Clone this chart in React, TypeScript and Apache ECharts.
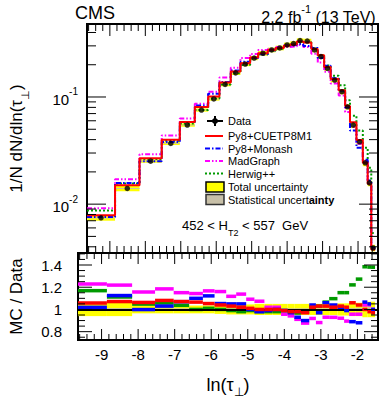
import React, { useEffect, useRef } from "react";
import * as echarts from "echarts";

// ---- data ----
const binEdges = [-9.645, -8.854, -8.164, -7.537, -7.027, -6.604, -6.228, -5.909, -5.59, -5.317, -5.044, -4.818, -4.545, -4.327, -4.09, -3.91, -3.727, -3.545, -3.318, -3.136, -2.956, -2.773, -2.546, -2.364, -2.227, -2.045, -1.865, -1.728, -1.627, -1.518];
const dataVals = [0.00745, 0.014, 0.0252, 0.0369, 0.0547, 0.0756, 0.0958, 0.131, 0.168, 0.203, 0.231, 0.256, 0.275, 0.287, 0.306, 0.315, 0.336, 0.333, 0.275, 0.238, 0.185, 0.144, 0.112, 0.081, 0.0547, 0.0382, 0.0243, 0.0158, 0.0039];
const totalUnc = [0.06, 0.06, 0.035, 0.035, 0.035, 0.035, 0.035, 0.04, 0.045, 0.045, 0.045, 0.05, 0.05, 0.05, 0.05, 0.05, 0.05, 0.05, 0.05, 0.05, 0.05, 0.05, 0.055, 0.055, 0.06, 0.06, 0.07, 0.07, 0.07];
const statUnc = [0.012, 0.012, 0.01, 0.01, 0.01, 0.01, 0.01, 0.01, 0.01, 0.01, 0.01, 0.01, 0.01, 0.01, 0.01, 0.01, 0.01, 0.01, 0.01, 0.01, 0.01, 0.01, 0.012, 0.012, 0.012, 0.015, 0.015, 0.02, 0.02];
const ratioCUETP8M1 = [1.058, 1.071, 1.063, 1.081, 1.071, 1.066, 1.053, 1.04, 1.03, 1.02, 1.01, 1.0, 1.0, 1.0, 0.99, 0.98, 0.98, 0.97, 1.02, 1.03, 1.03, 1.02, 1.03, 1.02, 1.06, 1.04, 1.0, 0.98, 0.97];
const ratioMonash = [1.019, 1.125, 0.999, 1.03, 1.07, 1.1, 1.122, 1.053, 1.05, 1.05, 1.0, 0.98, 0.99, 1.0, 0.99, 0.97, 0.93, 0.9, 1.04, 0.97, 1.06, 1.04, 1.02, 0.99, 0.89, 0.88, 1.066, 1.05, 1.0];
const ratioMadGraph = [1.229, 1.219, 1.157, 1.185, 1.151, 1.143, 1.167, 1.161, 1.118, 1.138, 1.092, 1.074, 1.02, 1.02, 0.957, 0.942, 0.911, 0.877, 0.919, 0.882, 0.93, 0.929, 0.921, 0.895, 0.957, 0.957, 1.04, 1.04, 1.0];
const ratioHerwig = [1.169, 1.112, 1.048, 1.058, 1.037, 1.0, 1.01, 1.0, 0.99, 0.98, 0.99, 0.98, 0.98, 0.98, 0.99, 0.98, 0.968, 0.975, 1.02, 1.03, 1.066, 1.097, 1.151, 1.151, 1.221, 1.273, 1.384, 1.381, 1.38];
const xTickLabels = [-9, -8, -7, -6, -5, -4, -3, -2];
const ratioTickLabels = [0.8, 1, 1.2, 1.4];
const logMajor = [0.01, 0.1];
const logMinor = [0.004, 0.005, 0.006, 0.007, 0.008, 0.009, 0.02, 0.03, 0.04, 0.05, 0.06, 0.07, 0.08, 0.09, 0.2, 0.3, 0.4];

const X_MIN = -9.645;
const X_MAX = -1.437;
const YT_MIN = 0.0035;
const YT_MAX = 0.48;
const YB_MIN = 0.725;
const YB_MAX = 1.508;

const FONT = "Liberation Sans, Arial, Helvetica, sans-serif";

const RED = "#ff0000";
const BLUE = "#0000ff";
const MAGENTA = "#ff00ff";
const GREEN = "#009a00";
const YELLOW = "#ffff00";
const STAT = "#c8c0a8";

const models = [
  { name: "Py8+CUETP8M1", ratio: ratioCUETP8M1, color: RED, dash: "solid" as any },
  { name: "Py8+Monash", ratio: ratioMonash, color: BLUE, dash: [5, 2, 1.5, 2] },
  { name: "MadGraph", ratio: ratioMadGraph, color: MAGENTA, dash: [5, 2, 1.5, 2, 1.5, 2] },
  { name: "Herwig++", ratio: ratioHerwig, color: GREEN, dash: [2, 2] },
];

function buildOption() {
  const nb = dataVals.length;
  // x ticks (layout only)
  const xMajorT: number[] = [];
  const xMinorT: number[] = [];
  for (let k = -98; k <= -14; k += 2) {
    const v = k / 10;
    if (v < X_MIN || v > X_MAX) continue;
    if (k % 10 === 0) xMajorT.push(v);
    else xMinorT.push(v);
  }
  const ratioMajorT = [0.8, 1.0, 1.2, 1.4];
  const ratioMinorT: number[] = [];
  for (let k = 75; k <= 150; k += 5) {
    if (k % 20 !== 0) ratioMinorT.push(k / 100);
  }

  const topTickData: any[] = [];
  xMajorT.forEach((v) => topTickData.push([v, 0.01, 0]));
  xMinorT.forEach((v) => topTickData.push([v, 0.01, 1]));
  logMajor.forEach((v) => topTickData.push([-5, v, 2]));
  logMinor.forEach((v) => topTickData.push([-5, v, 3]));

  const botTickData: any[] = [];
  xMajorT.forEach((v) => botTickData.push([v, 1, 0]));
  xMinorT.forEach((v) => botTickData.push([v, 1, 1]));
  ratioMajorT.forEach((v) => botTickData.push([-5, v, 2]));
  ratioMinorT.forEach((v) => botTickData.push([-5, v, 3]));

  const makeTickRender = (lens: number[]) => (params: any, api: any) => {
    const cs = params.coordSys;
    const kind = api.value(2);
    const children: any[] = [];
    const st = { stroke: "#000", lineWidth: 1 };
    if (kind === 0 || kind === 1) {
      const p = api.coord([api.value(0), api.value(1)]);
      const L = lens[kind];
      children.push({ type: "line", shape: { x1: p[0], y1: cs.y + cs.height, x2: p[0], y2: cs.y + cs.height - L }, style: st });
      children.push({ type: "line", shape: { x1: p[0], y1: cs.y, x2: p[0], y2: cs.y + L }, style: st });
    } else {
      const p = api.coord([api.value(0), api.value(1)]);
      const L = lens[kind];
      children.push({ type: "line", shape: { x1: cs.x, y1: p[1], x2: cs.x + L, y2: p[1] }, style: st });
      children.push({ type: "line", shape: { x1: cs.x + cs.width, y1: p[1], x2: cs.x + cs.width - L, y2: p[1] }, style: st });
    }
    return { type: "group", children };
  };

  const boxData = (rel: number[], center: (i: number) => number) =>
    dataVals.map((_, i) => [binEdges[i], binEdges[i + 1], center(i) * (1 - rel[i]), center(i) * (1 + rel[i])]);

  const rectRender = (color: string) => (params: any, api: any) => {
    const p0 = api.coord([api.value(0), api.value(3)]);
    const p1 = api.coord([api.value(1), api.value(2)]);
    return {
      type: "rect",
      shape: { x: p0[0], y: p0[1], width: p1[0] - p0[0], height: Math.max(p1[1] - p0[1], 1) },
      style: { fill: color },
    };
  };

  const series: any[] = [];
  // top panel: total uncertainty boxes
  series.push({
    type: "custom", xAxisIndex: 0, yAxisIndex: 0, renderItem: rectRender(YELLOW),
    data: boxData(totalUnc, (i) => dataVals[i]), encode: { x: [0, 1], y: [2, 3] }, z: 1, silent: true,
  });
  series.push({
    type: "custom", xAxisIndex: 0, yAxisIndex: 0, renderItem: rectRender(STAT),
    data: boxData(statUnc, (i) => dataVals[i]), encode: { x: [0, 1], y: [2, 3] }, z: 1, silent: true,
  });
  // MC histograms (MC = ratio x data)
  models.forEach((m, mi) => {
    const pts: any[] = [];
    for (let i = 0; i < nb; i++) pts.push([binEdges[i], dataVals[i] * m.ratio[i]]);
    pts.push([binEdges[nb], dataVals[nb - 1] * m.ratio[nb - 1]]);
    series.push({
      type: "line", name: m.name, xAxisIndex: 0, yAxisIndex: 0, step: "end", data: pts,
      showSymbol: false, symbol: "none", lineStyle: { color: m.color, width: 2, type: m.dash },
      z: 3 + (3 - mi), silent: true,
    });
  });
  // data points
  series.push({
    type: "scatter", name: "Data", xAxisIndex: 0, yAxisIndex: 0,
    data: dataVals.map((v, i) => [(binEdges[i] + binEdges[i + 1]) / 2, v]),
    symbol: "circle", symbolSize: 5.5, itemStyle: { color: "#000" }, z: 10, silent: true,
  });
  // ticks top
  series.push({
    type: "custom", xAxisIndex: 0, yAxisIndex: 0, renderItem: makeTickRender([12, 7, 19, 9]),
    data: topTickData, z: 20, silent: true, clip: false,
  });

  // bottom panel bands
  series.push({
    type: "custom", xAxisIndex: 1, yAxisIndex: 1, renderItem: rectRender(YELLOW),
    data: boxData(totalUnc, () => 1), encode: { x: [0, 1], y: [2, 3] }, z: 1, silent: true,
  });
  series.push({
    type: "custom", xAxisIndex: 1, yAxisIndex: 1, renderItem: rectRender(STAT),
    data: boxData(statUnc, () => 1), encode: { x: [0, 1], y: [2, 3] }, z: 1, silent: true,
  });
  // ratio segments
  models.forEach((m, mi) => {
    series.push({
      type: "custom", xAxisIndex: 1, yAxisIndex: 1,
      renderItem: (params: any, api: any) => {
        const p0 = api.coord([api.value(0), api.value(2)]);
        const p1 = api.coord([api.value(1), api.value(2)]);
        return { type: "line", shape: { x1: p0[0], y1: p0[1], x2: p1[0], y2: p1[1] }, style: { stroke: m.color, lineWidth: 3.5 } };
      },
      data: m.ratio.map((r, i) => [binEdges[i], binEdges[i + 1], r]),
      encode: { x: [0, 1], y: 2 }, z: 3 + (3 - mi), silent: true,
    });
  });
  series.push({
    type: "line", xAxisIndex: 1, yAxisIndex: 1, data: [], silent: true,
    markLine: { symbol: "none", silent: true, label: { show: false }, lineStyle: { color: "#000", width: 2, type: "solid" }, data: [{ yAxis: 1 }] },
    z: 9,
  });
  series.push({
    type: "custom", xAxisIndex: 1, yAxisIndex: 1, renderItem: makeTickRender([11, 6, 14, 7]),
    data: botTickData, z: 20, silent: true, clip: false,
  });

  const legendRows = [
    { y: 121 }, { y: 136 }, { y: 148.5 }, { y: 161 }, { y: 173.5 }, { y: 187 }, { y: 199.5 },
  ];
  const legendText = (y: number, text: string, rich?: any) => ({
    type: "text", x: 228, y, style: { text, fill: "#000", font: `11px ${FONT}`, verticalAlign: "middle", rich },
  });
  const graphics: any[] = [
    { type: "text", left: 75, top: 4, style: { text: "CMS", fill: "#000", font: `18px ${FONT}` } },
    {
      type: "text", right: 3, top: 3,
      style: {
        text: "{n|2.2 fb}{s|-1}{n| (13 TeV)}", fill: "#000",
        rich: { n: { fontSize: 16, fontFamily: FONT, verticalAlign: "bottom", lineHeight: 22 }, s: { fontSize: 11, fontFamily: FONT, verticalAlign: "top", lineHeight: 22 } },
      },
    },
    // legend samples
    { type: "line", shape: { x1: 207, y1: 121, x2: 223, y2: 121 }, style: { stroke: "#000", lineWidth: 2 } },
    { type: "line", shape: { x1: 215, y1: 116, x2: 215, y2: 126 }, style: { stroke: "#000", lineWidth: 2 } },
    { type: "circle", shape: { cx: 215, cy: 121, r: 3 }, style: { fill: "#000" } },
    legendText(121, "Data"),
    ...models.map((m, i) => ({
      type: "line", shape: { x1: 205, y1: legendRows[i + 1].y, x2: 223, y2: legendRows[i + 1].y },
      style: { stroke: m.color, lineWidth: 2, lineDash: m.dash === "solid" ? null : m.dash },
    })),
    ...models.map((m, i) => legendText(legendRows[i + 1].y, m.name)),
    { type: "rect", shape: { x: 206, y: 182, width: 18, height: 10 }, style: { fill: YELLOW, stroke: "#000", lineWidth: 1.5 } },
    legendText(187, "Total uncertainty"),
    { type: "rect", shape: { x: 206, y: 194.5, width: 18, height: 10 }, style: { fill: STAT, stroke: "#333", lineWidth: 1.5 } },
    {
      type: "text", x: 228, y: 199.5,
      style: {
        text: "{n|Statistical uncert}{b|ainty}", verticalAlign: "middle",
        rich: { n: { fontSize: 11, fontFamily: FONT, fill: "#000" }, b: { fontSize: 11, fontFamily: FONT, fontWeight: "bold", fill: "#000" } },
      },
    },
    {
      type: "text", x: 182, y: 228,
      style: {
        text: "{n|452 < H}{s|T2}{n| < 557  GeV}", verticalAlign: "middle",
        rich: { n: { fontSize: 13, fontFamily: FONT, fill: "#000", verticalAlign: "top", lineHeight: 18 }, s: { fontSize: 9, fontFamily: FONT, fill: "#000", verticalAlign: "bottom", lineHeight: 18 } },
      },
    },
  ];

  return {
    animation: false,
    textStyle: { fontFamily: FONT },
    grid: [
      { left: 78, right: 1, top: 24, height: 229, show: true, borderColor: "#000", borderWidth: 2, backgroundColor: "transparent" },
      { left: 78, right: 1, top: 253, height: 101, show: true, borderColor: "#000", borderWidth: 2, backgroundColor: "transparent" },
    ],
    xAxis: [
      { gridIndex: 0, type: "value", min: X_MIN, max: X_MAX, axisLine: { show: false }, axisTick: { show: false }, axisLabel: { show: false }, splitLine: { show: false } },
      {
        gridIndex: 1, type: "value", min: X_MIN, max: X_MAX, axisLine: { show: false }, axisTick: { show: false }, splitLine: { show: false },
        axisLabel: { customValues: xTickLabels, formatter: (v: number) => String(v), fontSize: 15, color: "#000", margin: 7, fontFamily: FONT },
        name: "{t|ln(τ}{s|⊥}{t|)}", nameLocation: "middle", nameGap: 36,
        nameTextStyle: { rich: { t: { fontSize: 18, fontFamily: FONT, color: "#000", verticalAlign: "top", lineHeight: 22 }, s: { fontSize: 12, fontFamily: FONT, color: "#000", verticalAlign: "bottom", lineHeight: 22 } } },
      },
    ],
    yAxis: [
      {
        gridIndex: 0, type: "log", min: YT_MIN, max: YT_MAX, axisLine: { show: false }, axisTick: { show: false }, splitLine: { show: false }, minorTick: { show: false },
        axisLabel: {
          margin: 9, color: "#000",
          formatter: (v: number) => {
            const l = Math.log10(v);
            const r = Math.round(l);
            if (Math.abs(l - r) > 1e-6) return "";
            return `{b|10}{s|${r}}`;
          },
          rich: { b: { fontSize: 15, fontFamily: FONT, color: "#000", verticalAlign: "bottom", lineHeight: 20 }, s: { fontSize: 10, fontFamily: FONT, color: "#000", verticalAlign: "top", lineHeight: 20 } },
        },
        name: "{t|1/N dN/dln(τ}{s|⊥}{t|)}", nameLocation: "middle", nameGap: 57, nameRotate: 90,
        nameTextStyle: { rich: { t: { fontSize: 17, fontFamily: FONT, color: "#000", verticalAlign: "top", lineHeight: 22 }, s: { fontSize: 11, fontFamily: FONT, color: "#000", verticalAlign: "bottom", lineHeight: 22 } } },
      },
      {
        gridIndex: 1, type: "value", min: YB_MIN, max: YB_MAX, axisLine: { show: false }, axisTick: { show: false }, splitLine: { show: false },
        axisLabel: { customValues: ratioTickLabels, formatter: (v: number) => (v === 1 ? "1" : v.toFixed(1)), fontSize: 15, color: "#000", margin: 16, fontFamily: FONT },
        name: "MC / Data", nameLocation: "middle", nameGap: 53, nameRotate: 90,
        nameTextStyle: { fontSize: 17, fontFamily: FONT, color: "#000" },
      },
    ],
    series,
    graphic: graphics,
  };
}

export default function App() {
  const ref = useRef<HTMLDivElement>(null);
  useEffect(() => {
    document.body.style.margin = "0";
    if (!ref.current) return;
    const chart = echarts.init(ref.current, null, { renderer: "svg" });
    chart.setOption(buildOption() as any);
    return () => chart.dispose();
  }, []);
  return <div ref={ref} style={{ width: 379, height: 399, background: "#fff" }} />;
}
